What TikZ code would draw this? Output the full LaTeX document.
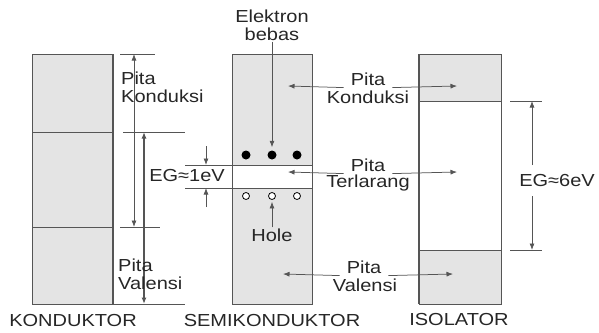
\documentclass[tikz,border=0pt]{standalone}
\usepackage{fontspec}
\setmainfont{Liberation Sans}[FakeStretch=1.15]
\usetikzlibrary{arrows.meta}
\definecolor{abu}{HTML}{E4E4E4}
\definecolor{garis}{HTML}{555555}
\definecolor{tulisan}{HTML}{262626}
\begin{document}
\begin{tikzpicture}[x=1pt, y=-1pt,
    lbl/.style={text=tulisan, font=\fontsize{17.4}{18}\selectfont, inner sep=1pt},
    pita/.style={lbl, inner xsep=7pt, inner ysep=2pt},
    garisan/.style={draw=garis, line width=0.75pt},
    panah/.style={garisan, -{Latex[length=6.5pt,width=5pt]}},
    dpanah/.style={garisan, {Latex[length=6.5pt,width=5pt]}-{Latex[length=6.5pt,width=5pt]}},
    band/.style={fill=abu, draw=garis, line width=1pt},
    elektron/.style={circle, fill=black, inner sep=0pt, minimum size=9pt},
    hole/.style={circle, draw=black, fill=white, line width=0.8pt, inner sep=0pt, minimum size=7pt}]
  \useasboundingbox (0,0) rectangle (599,332);
  %Konduktor
  \filldraw[band] (32,54) rectangle (113,304);
  \draw[garisan] (32,132) -- (113,132);
  \draw[garisan] (32,227) -- (113,227);
  \draw[garis, line width=1.4pt] (113,54) -- (113,304);
  \draw[garisan] (32,304) -- (185,304);
  \draw[garisan] (120,54) -- (155,54);
  \draw[garisan] (123,132) -- (185,132);
  \draw[garisan] (120,227) -- (160,227);
  \coordinate (k1) at (134,54);
  \coordinate (k2) at (134,227);
  \coordinate (k3) at (144,132);
  \coordinate (k4) at (144,304);
  \draw[dpanah] (k1) -- (k2);
  \draw[dpanah, line width=1.2pt] (k3) -- (k4);
  \node[lbl, anchor=west, align=left] (kpk) at (120,87) {Pita\\Konduksi};
  \node[lbl, anchor=west, align=left] (kpv) at (117,274) {Pita\\Valensi};
  \node[lbl] (kon) at (73,321) {KONDUKTOR};

  %Semikonduktor
  \filldraw[band] (232,54) rectangle (312,304);
  \filldraw[fill=white, draw=garis, line width=0.75pt] (232,165) rectangle (312,188);
  \draw[garisan] (185,165) -- (232,165);
  \draw[garisan] (185,188) -- (232,188);
  \node[lbl] (eg1) at (187,176) {EG≈1eV};
  \coordinate (g1) at (206,146);
  \coordinate (g2) at (206,165);
  \coordinate (g3) at (206,207);
  \coordinate (g4) at (206,188);
  \draw[panah] (g1) -- (g2);
  \draw[panah] (g3) -- (g4);
  \node[elektron] (e1) at (246,155) {};
  \node[elektron] (e2) at (272,155) {};
  \node[elektron] (e3) at (297,155) {};
  \node[hole] (h1) at (246,196) {};
  \node[hole] (h2) at (272,196) {};
  \node[hole] (h3) at (297,196) {};
  \node[lbl, align=center] (eb) at (272,25) {Elektron\\bebas};
  \node[lbl] (hl) at (272,235) {Hole};
  \draw[panah] (eb.south) -- ([yshift=3pt]e2.north);
  \draw[panah] (hl.north) -- ([yshift=-2pt]h2.south);
  \node[lbl] (sem) at (272,321) {SEMIKONDUKTOR};

  %Isolator
  \filldraw[fill=white, draw=garis, line width=1pt] (419,54) rectangle (501,304);
  \filldraw[band] (419,54) rectangle (501,101);
  \filldraw[band] (419,250) rectangle (501,304);
  \draw[garis, line width=1.4pt] (419,54) -- (419,304);
  \draw[garisan] (510,101) -- (542,101);
  \draw[garisan] (510,250) -- (542,250);
  \node[lbl] (eg6) at (557,181) {EG≈6eV};
  \coordinate (i1) at (532,101);
  \coordinate (i2) at (532,250);
  \draw[panah] (i1 |- 0,165) -- (i1);
  \draw[panah] (i2 |- 0,196) -- (i2);
  \node[lbl] (iso) at (459,320) {ISOLATOR};

  %Label pita di tengah
  \node[pita] (pk) at (368,79) {Pita};
  \node[lbl] (pk2) at (368,97) {Konduksi};
  \node[pita] (pt) at (368,165) {Pita};
  \node[lbl] (pt2) at (368,183) {Terlarang};
  \node[pita] (pv) at (364,267) {Pita};
  \node[lbl] (pv2) at (365,285) {Valensi};
  \coordinate (sk) at (288,86);
  \coordinate (st) at (288,172);
  \coordinate (sv) at (283,274);
  \coordinate (ik) at (457,86);
  \coordinate (it) at (457,172);
  \coordinate (iv) at (453,274);
  \draw[panah] (pk.south west) -- (sk);
  \draw[panah] (pk.south east) -- (ik);
  \draw[panah] (pt.south west) -- (st);
  \draw[panah] (pt.south east) -- (it);
  \draw[panah] (pv.south west) -- (sv);
  \draw[panah] (pv.south east) -- (iv);
\end{tikzpicture}
\end{document}
